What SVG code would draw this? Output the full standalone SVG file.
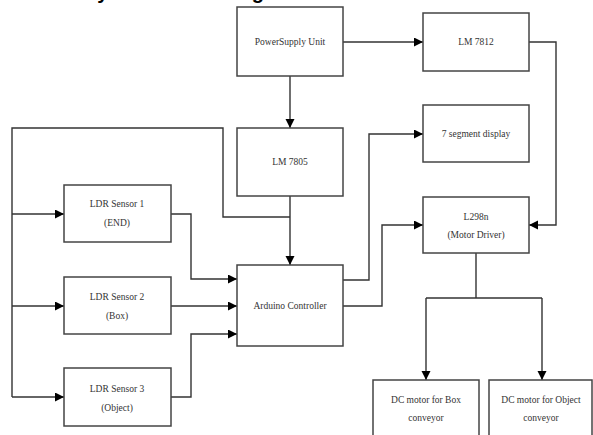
<svg xmlns="http://www.w3.org/2000/svg" width="593" height="435" viewBox="0 0 593 435">
<defs>
<style>
.box{fill:#fff;stroke:#444;stroke-width:1.5}
.lbl{font-family:"Liberation Serif","Times New Roman",serif;font-size:9.5px;fill:#333;text-anchor:middle}
.wire{fill:none;stroke:#333;stroke-width:1.4}
.title{font-family:"Liberation Sans",Arial,sans-serif;font-size:20px;font-weight:bold;fill:#000}
</style>
<marker id="arr" markerUnits="userSpaceOnUse" markerWidth="10" markerHeight="10" refX="9" refY="4.5" orient="auto">
<path d="M0,0 L9,4.5 L0,9 z" fill="#000"/>
</marker>
</defs>
<rect width="593" height="435" fill="#fff"/>
<text class="title" x="84" y="-1">System Block Diagram</text>

<g id="connectors">
<path class="wire" d="M290,76 V128" marker-end="url(#arr)"/>
<path class="wire" d="M343,42 H423" marker-end="url(#arr)"/>
<path class="wire" d="M529,42 H556 V225 H529" marker-end="url(#arr)"/>
<path class="wire" d="M290,196 V265" marker-end="url(#arr)"/>
<path class="wire" d="M290,217 H223 V128 H12 V397"/>
<path class="wire" d="M12,214 H64" marker-end="url(#arr)"/>
<path class="wire" d="M12,306 H64" marker-end="url(#arr)"/>
<path class="wire" d="M12,397 H64" marker-end="url(#arr)"/>
<path class="wire" d="M171,214 H191 V279 H237" marker-end="url(#arr)"/>
<path class="wire" d="M171,306 H237" marker-end="url(#arr)"/>
<path class="wire" d="M171,397 H191 V334 H237" marker-end="url(#arr)"/>
<path class="wire" d="M343,280 H369 V134 H423" marker-end="url(#arr)"/>
<path class="wire" d="M343,306 H382 V225 H423" marker-end="url(#arr)"/>
<path class="wire" d="M476,253 V298"/>
<path class="wire" d="M426,298 H542"/>
<path class="wire" d="M426,298 V380" marker-end="url(#arr)"/>
<path class="wire" d="M542,298 V380" marker-end="url(#arr)"/>
</g>

<g id="psu">
<rect class="box" x="237" y="7" width="106" height="69"/>
<text class="lbl" x="290" y="45">PowerSupply Unit</text>
</g>
<g id="lm7812">
<rect class="box" x="423" y="13" width="106" height="58"/>
<text class="lbl" x="476" y="45">LM 7812</text>
</g>
<g id="lm7805">
<rect class="box" x="237" y="128" width="106" height="68"/>
<text class="lbl" x="290" y="165">LM 7805</text>
</g>
<g id="display">
<rect class="box" x="423" y="105" width="106" height="57"/>
<text class="lbl" x="476" y="137">7 segment display</text>
</g>
<g id="l298n">
<rect class="box" x="423" y="197" width="106" height="56"/>
<text class="lbl" x="476" y="220">L298n</text>
<text class="lbl" x="476" y="238">(Motor Driver)</text>
</g>
<g id="ldr1">
<rect class="box" x="64" y="185" width="107" height="57"/>
<text class="lbl" x="117" y="207">LDR Sensor 1</text>
<text class="lbl" x="117" y="226">(END)</text>
</g>
<g id="ldr2">
<rect class="box" x="64" y="277" width="107" height="57"/>
<text class="lbl" x="117" y="300">LDR Sensor 2</text>
<text class="lbl" x="117" y="319">(Box)</text>
</g>
<g id="ldr3">
<rect class="box" x="64" y="368" width="107" height="58"/>
<text class="lbl" x="117" y="392">LDR Sensor 3</text>
<text class="lbl" x="117" y="411">(Object)</text>
</g>
<g id="arduino">
<rect class="box" x="237" y="265" width="106" height="81"/>
<text class="lbl" x="290" y="309">Arduino Controller</text>
</g>
<g id="motor-box">
<rect class="box" x="373" y="380" width="106" height="70"/>
<text class="lbl" x="426" y="403">DC motor for Box</text>
<text class="lbl" x="426" y="421">conveyor</text>
</g>
<g id="motor-object">
<rect class="box" x="489" y="380" width="103" height="70"/>
<text class="lbl" x="541" y="403">DC motor for Object</text>
<text class="lbl" x="541" y="421">conveyor</text>
</g>
</svg>
